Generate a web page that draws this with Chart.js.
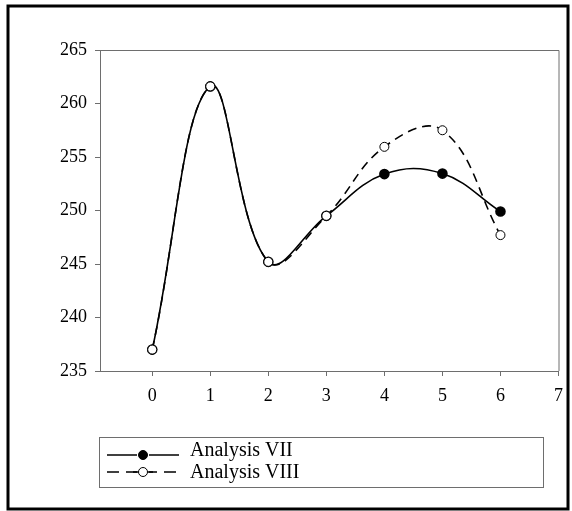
<!DOCTYPE html>
<html lang="en">
<head>
  <meta charset="UTF-8">
  <title>Analysis VII / VIII</title>
  <script src="https://cdn.jsdelivr.net/npm/chart.js"></script>
  <style>
    body {
      margin: 0;
      padding: 0;
      background: #fff;
    }

    #chart {
      display: block;
    }
  </style>
</head>
<body>
  <canvas id="chart" width="572" height="511"></canvas>

  <script>
    // values
    const xValues = [0, 1, 2, 3, 4, 5, 6];
    const analysisVII = [237.0, 261.6, 245.2, 249.5, 253.4, 253.45, 249.9];
    const analysisVIII = [237.0, 261.6, 245.2, 249.5, 255.95, 257.5, 247.7];
    const xTicks = [0, 1, 2, 3, 4, 5, 6, 7];
    const yTicks = [235, 240, 245, 250, 255, 260, 265];
    const seriesNames = ['Analysis VII', 'Analysis VIII'];

    const axisGray = '#6e6e6e';
    const serif = "'Liberation Serif', 'Times New Roman', serif";

    function toPoints(ys) {
      return xValues.map((x, i) => ({ x: x, y: ys[i] }));
    }

    // box round the plot, legend box, outer frame
    const framePlugin = {
      id: 'frame',
      afterDraw(chart) {
        const ctx = chart.ctx;
        const a = chart.chartArea;
        ctx.save();

        ctx.strokeStyle = axisGray;
        ctx.lineWidth = 1;
        ctx.beginPath();
        ctx.moveTo(a.left, a.top + 0.5);
        ctx.lineTo(a.right + 0.5, a.top + 0.5);
        ctx.lineTo(a.right + 0.5, a.bottom);
        ctx.stroke();

        // legend
        ctx.strokeRect(99.5, 437.5, 444, 50);
        const rows = [
          { y: 455, dash: [], fill: '#000' },
          { y: 472, dash: [12, 7], fill: '#fff' }
        ];
        rows.forEach((r, i) => {
          ctx.strokeStyle = '#000';
          ctx.lineWidth = 1.5;
          ctx.setLineDash(r.dash);
          ctx.beginPath();
          ctx.moveTo(107, r.y);
          ctx.lineTo(179, r.y);
          ctx.stroke();
          ctx.setLineDash([]);
          ctx.fillStyle = '#fff';
          ctx.fillRect(137, r.y - 5, 12, 10);
          ctx.beginPath();
          ctx.arc(143, r.y, 4.5, 0, Math.PI * 2);
          ctx.fillStyle = r.fill;
          ctx.fill();
          ctx.lineWidth = 1;
          ctx.stroke();
          if (i === 1) {
            ctx.lineWidth = 1.5;
            ctx.beginPath();
            ctx.moveTo(133, r.y); ctx.lineTo(138.5, r.y);
            ctx.moveTo(147.5, r.y); ctx.lineTo(153, r.y);
            ctx.stroke();
          }
          ctx.fillStyle = '#000';
          ctx.font = '20px ' + serif;
          ctx.textBaseline = 'alphabetic';
          ctx.textAlign = 'left';
          ctx.fillText(seriesNames[i], 190, i === 0 ? 456 : 478);
        });

        // outer frame
        ctx.strokeStyle = '#000';
        ctx.lineWidth = 3;
        ctx.strokeRect(8, 6, 560, 503);
        ctx.restore();
      }
    };

    new Chart(document.getElementById('chart'), {
      type: 'line',
      data: {
        datasets: [
          {
            label: seriesNames[0],
            data: toPoints(analysisVII),
            borderColor: '#000',
            borderWidth: 1.6,
            backgroundColor: '#000',
            pointBackgroundColor: '#000',
            pointBorderColor: '#000',
            pointRadius: 4.5,
            tension: 0.4,
            order: 2
          },
          {
            label: seriesNames[1],
            data: toPoints(analysisVIII),
            borderColor: '#000',
            borderWidth: 1.6,
            borderDash: [9, 6],
            backgroundColor: '#fff',
            pointBackgroundColor: '#fff',
            pointBorderColor: '#000',
            pointBorderWidth: 1,
            pointRadius: 4.5,
            tension: 0.4,
            order: 1
          }
        ]
      },
      options: {
        responsive: false,
        animation: false,
        layout: { padding: { left: 0, top: 50, right: 13, bottom: 0 } },
        plugins: {
          legend: { display: false },
          tooltip: { enabled: false }
        },
        scales: {
          x: {
            type: 'linear',
            min: -0.9,
            max: 7,
            afterBuildTicks: s => { s.ticks = xTicks.map(v => ({ value: v })); },
            afterFit: s => { s.height = 140; },
            grid: { drawOnChartArea: false, tickLength: 5, tickColor: axisGray },
            border: { color: axisGray, width: 1 },
            ticks: { color: '#000', padding: 9, font: { family: serif, size: 18 } }
          },
          y: {
            min: 235,
            max: 265,
            afterBuildTicks: s => { s.ticks = yTicks.map(v => ({ value: v })); },
            afterFit: s => { s.width = 100; },
            grid: { drawOnChartArea: false, tickLength: 5, tickColor: axisGray },
            border: { color: axisGray, width: 1 },
            ticks: { color: '#000', padding: 8, font: { family: serif, size: 18 } }
          }
        }
      },
      plugins: [framePlugin]
    });
  </script>
</body>
</html>
